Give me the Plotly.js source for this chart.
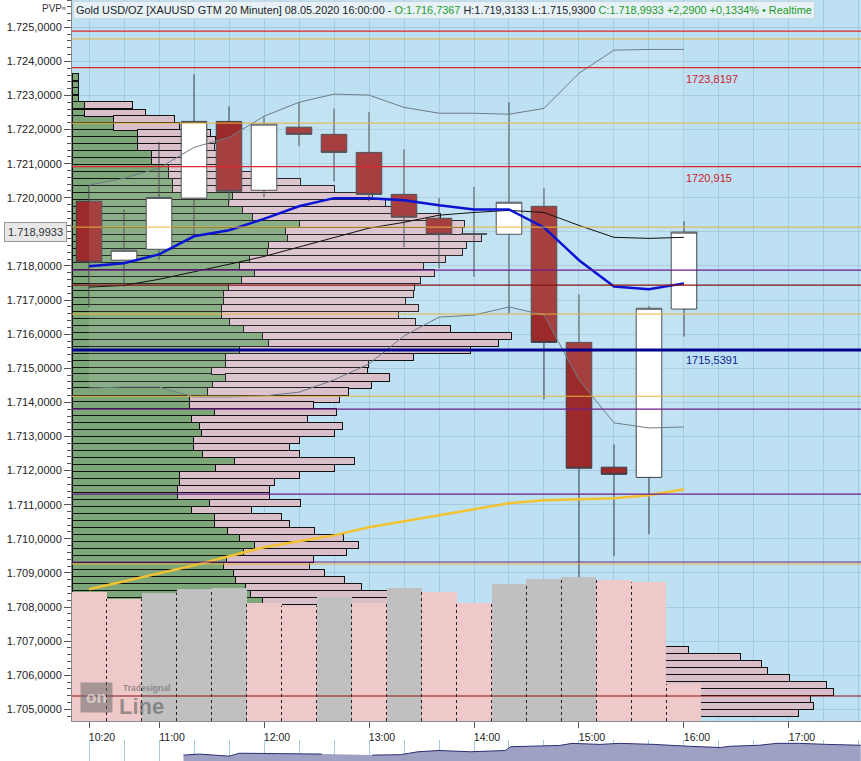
<!DOCTYPE html>
<html><head><meta charset="utf-8">
<script src="https://cdn.plot.ly/plotly-3.0.1.min.js"></script>
<style>html,body{margin:0;padding:0;background:#fff}#chart{width:861px;height:761px}</style>
</head><body><div id="chart"></div>
<script>
const day = '2020-05-08 ';
// 20-minute candles
const barTimes = ['10:20','10:40','11:00','11:20','11:40','12:00','12:20','12:40','13:00','13:20','13:40','14:00','14:20','14:40','15:00','15:20','15:40','16:00'];
const openP  = [1719.90,1718.17,1718.49,1719.99,1722.24,1720.22,1722.07,1721.86,1721.33,1720.10,1719.40,1718.95,1718.93,1719.75,1715.76,1712.10,1711.80,1716.7367];
const highP  = [1720.37,1719.66,1721.63,1723.62,1722.68,1722.36,1722.80,1722.62,1722.51,1721.42,1719.99,1720.32,1722.80,1720.28,1717.17,1712.77,1716.82,1719.3133];
const lowP   = [1716.79,1717.38,1718.17,1718.90,1719.84,1720.01,1721.51,1720.48,1719.90,1718.55,1717.93,1717.68,1716.61,1714.09,1706.70,1709.49,1710.13,1715.9300];
const closeP = [1718.11,1718.46,1720.01,1722.24,1720.19,1722.16,1721.86,1721.33,1720.10,1719.43,1718.93,1718.93,1719.87,1715.76,1712.07,1711.89,1716.76,1718.9933];
// indicators
const maFast    = [1717.99,1718.08,1718.34,1718.87,1719.05,1719.38,1719.75,1719.99,1719.99,1719.93,1719.78,1719.66,1719.66,1719.13,1718.17,1717.40,1717.32,1717.49];
const maMid     = [1717.38,1717.43,1717.61,1717.82,1718.05,1718.28,1718.55,1718.84,1719.11,1719.28,1719.49,1719.57,1719.63,1719.57,1719.19,1718.84,1718.81,1718.84];
const bandUpper = [1720.37,1720.57,1720.87,1721.48,1721.77,1722.39,1722.80,1723.04,1723.01,1722.65,1722.48,1722.48,1722.45,1722.62,1723.65,1724.33,1724.35,1724.35];
const bandLower = [1714.42,1714.45,1714.45,1714.16,1714.16,1714.19,1714.30,1714.66,1715.13,1715.95,1716.50,1716.56,1716.80,1716.56,1714.66,1713.40,1713.25,1713.28];
const maSlow    = [1708.52,1708.75,1708.99,1709.22,1709.49,1709.75,1709.93,1710.10,1710.34,1710.51,1710.69,1710.87,1711.04,1711.13,1711.16,1711.19,1711.28,1711.45];
const volume    = [1293,1220,1283,1317,1333,1183,1153,1243,1183,1327,1293,1177,1370,1420,1440,1410,1387,370];
// volume profile (price rows, buy part, sell part)
const profilePrices = [1723.53,1723.32,1723.12,1722.91,1722.71,1722.50,1722.30,1722.09,1721.89,1721.69,
1721.48,1721.28,1721.07,1720.87,1720.66,1720.46,1720.25,1720.05,1719.84,1719.64,
1719.43,1719.23,1719.02,1718.82,1718.62,1718.41,1718.21,1718.00,1717.80,1717.59,
1717.39,1717.18,1716.98,1716.77,1716.57,1716.37,1716.16,1715.96,1715.75,1715.55,
1715.34,1715.14,1714.93,1714.73,1714.52,1714.32,1714.11,1713.91,1713.71,1713.50,
1713.30,1713.09,1712.89,1712.68,1712.48,1712.27,1712.07,1711.86,1711.66,1711.45,
1711.25,1711.04,1710.84,1710.64,1710.43,1710.23,1710.02,1709.82,1709.61,1709.41,
1709.20,1709.00,1708.79,1708.59,1708.38,1708.18,1707.97,1707.77,1707.56,1707.36,
1707.16,1706.95,1706.75,1706.54,1706.34,1706.13,1705.93,1705.72,1705.52,1705.31,
1705.11,1704.90];
const profileBuy = [6,6,6,6,12,12,41,41,65,65,
65,79,79,96,96,100,100,160,156,170,
180,227,213,215,196,195,177,167,182,169,
156,151,151,149,149,157,171,190,196,167,
153,153,139,153,140,135,117,117,142,119,
127,129,121,121,130,162,143,107,107,105,
105,137,119,142,142,155,167,182,171,154,
151,161,163,173,178,190,198,213,228,248,
268,288,308,338,348,353,368,388,393,378,
380,373];
const profileSell = [null,null,null,null,48,61,61,66,73,78,
77,66,71,72,94,128,162,140,157,153,
188,165,177,194,198,195,196,184,180,179,
186,190,182,197,177,186,207,249,230,231,
188,143,156,164,159,141,150,124,122,116,
143,133,106,96,97,120,119,120,95,92,
92,91,60,67,75,87,104,104,103,87,
86,91,109,116,137,158,180,195,220,240,
260,280,308,330,341,342,349,366,368,360,
361,353];
// horizontal levels
const redLevels = [1724.89, 1723.8197, 1720.915];
const deepRedLevels = [1717.44, 1705.39];
const orangeLevels = [1724.66, 1722.19, 1719.14, 1716.59, 1714.18, 1709.26];
const purpleLevels = [1717.88, 1713.80, 1711.31, 1709.32];
const pocLevels = [1715.5391];
const labelledRed = [1723.8197, 1720.915];
const labelledPoc = [1715.5391];
// axis ticks
const yTickVals = [1705,1706,1707,1708,1709,1710,1711,1712,1713,1714,1715,1716,1717,1718,1719,1720,1721,1722,1723,1724,1725];
const yTickText = ['1.705,0000','1.706,0000','1.707,0000','1.708,0000','1.709,0000','1.710,0000','1.711,0000','1.712,0000','1.713,0000','1.714,0000','1.715,0000','1.716,0000','1.717,0000','1.718,0000','1.719,0000','1.720,0000','1.721,0000','1.722,0000','1.723,0000','1.724,0000','1.725,0000'];
const xTickText = ['10:20','11:00','12:00','13:00','14:00','15:00','16:00','17:00'];
// navigator strip
const navTimes  = ['11:14','11:23','11:40','11:46','12:09','12:33','12:34','13:01','13:02','13:18','13:28','13:40','13:58','14:18','14:21','14:49','14:56','15:12','15:23','15:43','16:03','16:21','16:26','16:43','16:53','17:06','17:22','17:41'];
const navValues = [28,33,23,37,35,33,null,null,28,30,44,50,44,50,68,74,84,79,84,79,70,64,70,75,84,84,79,75];

function t(hm){ return day + hm; }
function addMin(hm, m){ const p = hm.split(':').map(Number); const tot = p[0]*60+p[1]+m; return String(Math.floor(tot/60)).padStart(2,'0')+':'+String(tot%60).padStart(2,'0'); }
function de(v, dec){ const s = v.toFixed(dec).split('.'); return s[0].replace(/\B(?=(\d{3})+(?!\d))/g,'.') + ',' + s[1]; }
function deRaw(v){ return String(v).replace('.', ','); }

const X = barTimes.map(t);
const gridC = '#A6CBE0';
const volColors = volume.map((v,i)=> i===0 ? '#EFC9C9' : (v > volume[i-1] ? '#C0C0C0' : '#EFC9C9'));
const sepX = [], sepY = [];
for (let i=0;i<volume.length-1;i++){ const b = t(addMin(barTimes[i],10)); sepX.push(b,b,null); sepY.push(0, Math.min(volume[i],volume[i+1]), null); }

const traces = [
 {type:'bar', orientation:'h', x:profileBuy, y:profilePrices, xaxis:'x', yaxis:'y', width:0.2065,
  marker:{color:'#7DA679', line:{color:'#111', width:1}}},
 {type:'bar', orientation:'h', x:profileSell, y:profilePrices, xaxis:'x', yaxis:'y', width:0.2065,
  marker:{color:'#D8BFCA', line:{color:'#111', width:1}}},
 {type:'bar', x:X, y:volume, xaxis:'x2', yaxis:'y2', marker:{color:volColors, line:{width:0}}},
 {type:'scatter', mode:'lines', x:sepX, y:sepY, xaxis:'x2', yaxis:'y2', line:{color:'#222', width:1, dash:'dot'}},
 {type:'scatter', mode:'lines', x:X, y:bandUpper, xaxis:'x2', yaxis:'y', line:{color:'#6E7C86', width:1}},
 {type:'scatter', mode:'lines', x:X, y:bandLower, xaxis:'x2', yaxis:'y', line:{color:'#6E7C86', width:1}, fill:'tonexty', fillcolor:'rgba(255,255,255,0.10)'},
 {type:'scatter', mode:'lines', x:X, y:maSlow, xaxis:'x2', yaxis:'y', line:{color:'#F3C232', width:2.5}},
 {type:'scatter', mode:'lines', x:X, y:maMid, xaxis:'x2', yaxis:'y', line:{color:'#111', width:1}},
 {type:'candlestick', x:X, open:openP, high:highP, low:lowP, close:closeP, xaxis:'x2', yaxis:'y', whiskerwidth:0,
  increasing:{line:{color:'#3C4048', width:1}, fillcolor:'#FFFFFF'},
  decreasing:{line:{color:'#3C4048', width:1}, fillcolor:'#9C2A2A'}},
 {type:'scatter', mode:'lines', x:X, y:maFast, xaxis:'x2', yaxis:'y', line:{color:'#0A14D2', width:2.5}},
 {type:'scatter', mode:'lines', x:navTimes.map(t), y:navValues, xaxis:'x2', yaxis:'y3', fill:'tozeroy', fillcolor:'#9EA1C4', line:{color:'#2B2E6E', width:1}, connectgaps:false}
];

const shapes = [{type:'rect', xref:'paper', yref:'paper', x0:0, x1:1, y0:40/761, y1:1, fillcolor:'#BDE0F2', line:{width:0}, layer:'below'}];
function addLevels(arr, color, width){ arr.forEach(v=>shapes.push({type:'line', xref:'paper', x0:0, x1:1, yref:'y', y0:v, y1:v, line:{color:color, width:width}, layer:'above'})); }
addLevels(orangeLevels, '#E6B43C', 1);
addLevels(purpleLevels, '#6C1E8C', 1.2);
addLevels(redLevels, '#E0282C', 1.2);
addLevels(deepRedLevels, '#8A1010', 1.2);
addLevels(pocLevels, '#00008C', 3);

const last = barTimes.length-1;
const green = '#1F9A1F';
const header = 'Gold USD/OZ [XAUUSD GTM 20 Minuten] 08.05.2020 ' + barTimes[last] + ':00 - ' +
  '<span style="color:'+green+'">O:'+de(openP[last],4)+'</span> H:'+de(highP[last],4)+' L:'+de(lowP[last],4)+
  ' <span style="color:'+green+'">C:'+de(closeP[last],4)+' +2,2900 +0,1334% • Realtime</span>';

const annotations = [
 {xref:'paper', yref:'paper', x:0, y:1, xanchor:'left', yanchor:'top', xshift:1, yshift:-1, text:header, showarrow:false,
  bgcolor:'#E7F2F8', bordercolor:'#C9D6DD', borderwidth:1, borderpad:2, font:{size:10.9, color:'#222'}},
 {xref:'paper', yref:'paper', x:0, y:1, xanchor:'right', yanchor:'top', xshift:-4, yshift:-1, text:'PVPⁿ', showarrow:false, font:{size:10, color:'#333'}},
 {xref:'paper', yref:'y', x:0, y:closeP[last], xanchor:'right', yanchor:'middle', xshift:-5, text:de(closeP[last],4), showarrow:false,
  bgcolor:'#E8E8E8', bordercolor:'#9A9A9A', borderwidth:1, borderpad:3, font:{size:11, color:'#333'}},
 {xref:'paper', yref:'paper', x:(80-72)/789, y:(761-682)/761, xanchor:'left', yanchor:'top', text:'<b>on</b>', showarrow:false,
  bgcolor:'rgba(95,95,95,0.5)', borderpad:5, font:{size:17, color:'rgba(255,255,255,0.55)'}},
 {xref:'paper', yref:'paper', x:(121-72)/789, y:(761-681)/761, xanchor:'left', yanchor:'top', text:'<b>Tradesignal</b>', showarrow:false, font:{size:8.5, color:'rgba(95,95,95,0.6)'}},
 {xref:'paper', yref:'paper', x:(117-72)/789, y:(761-692)/761, xanchor:'left', yanchor:'top', text:'<b>Line</b>', showarrow:false, font:{size:22, color:'rgba(95,95,95,0.6)'}}
];
labelledRed.forEach(v=>annotations.push({xref:'x2', yref:'y', x:X[last], y:v, xanchor:'left', yanchor:'top', yshift:-3, text:deRaw(v), showarrow:false, font:{size:11, color:'#D0202A'}}));
labelledPoc.forEach(v=>annotations.push({xref:'x2', yref:'y', x:X[last], y:v, xanchor:'left', yanchor:'top', yshift:-2, text:deRaw(v), showarrow:false, font:{size:11, color:'#10208C'}}));

const layout = {
 width:861, height:761, margin:{l:72, r:0, t:0, b:0, pad:0},
 paper_bgcolor:'#FFFFFF', plot_bgcolor:'rgba(0,0,0,0)',
 showlegend:false, hovermode:false, barmode:'stack', bargap:0, boxgap:0.27, boxgroupgap:0,
 font:{family:'Liberation Sans, Arial, sans-serif', size:11, color:'#222'},
 xaxis:{domain:[0,1], anchor:'y', range:[0,789], visible:false, fixedrange:true},
 xaxis2:{overlaying:'x', anchor:'y', type:'date', range:[t('10:10:17'), t('17:41:09')],
   tickmode:'array', tickvals:xTickText.map(t), ticktext:xTickText, ticks:'outside', ticklen:6, tickcolor:'#555',
   ticklabelshift:13, tickfont:{size:10.5, color:'#222'},
   showline:true, linecolor:'#8A8A8A', linewidth:1, showgrid:true, gridcolor:gridC, gridwidth:1, zeroline:false,
   minor:{tickmode:'linear', tick0:t('10:20'), dtick:1200000, showgrid:true, gridcolor:gridC, gridwidth:1, ticks:''},
   rangeslider:{visible:false}, fixedrange:true},
 yaxis:{domain:[40/761,1], anchor:'x', range:[1704.657,1725.80], tickmode:'array', tickvals:yTickVals, ticktext:yTickText,
   ticks:'outside', ticklen:7, tickcolor:'#555', showline:true, linecolor:'#8A8A8A', linewidth:1,
   showgrid:true, gridcolor:gridC, gridwidth:1, zeroline:false, tickfont:{size:11, color:'#222'},
   minor:{tickmode:'linear', tick0:1705, dtick:0.2, ticks:'outside', ticklen:4, tickcolor:'#555', showgrid:false}, fixedrange:true},
 yaxis2:{overlaying:'y', anchor:'x', range:[0,7210], visible:false, fixedrange:true},
 yaxis3:{domain:[0,21/761], anchor:'x2', range:[0,100], visible:false, fixedrange:true},
 shapes:shapes, annotations:annotations
};
Plotly.newPlot('chart', traces, layout, {staticPlot:true, displayModeBar:false});
</script></body></html>
